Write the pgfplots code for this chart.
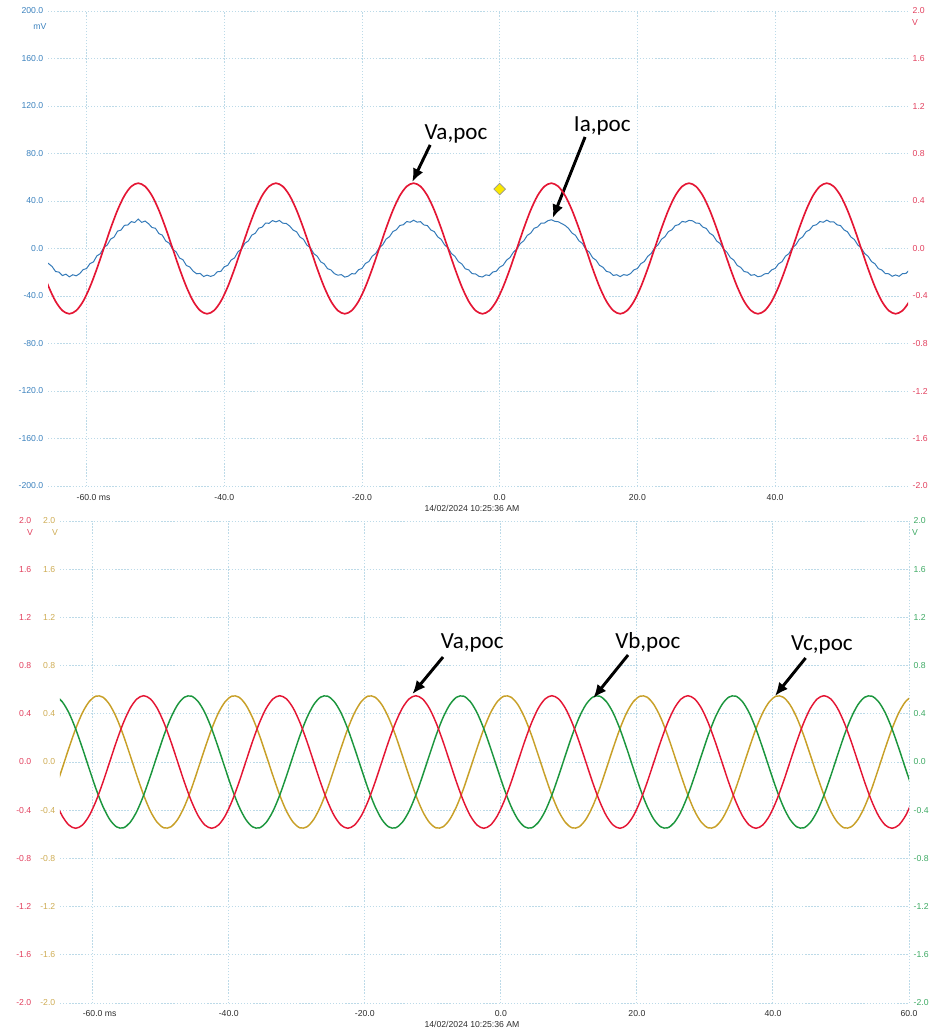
\documentclass[border=0pt]{standalone}
\usepackage{pgfplots}
\pgfplotsset{compat=1.18}
\usepackage{pgfplotstable}
\usepackage{fontspec}
\setmainfont{Liberation Sans}
\newfontfamily\annfont{Carlito}
\usetikzlibrary{arrows.meta}

\definecolor{cred}{RGB}{228,22,52}
\definecolor{cblue}{RGB}{52,122,184}
\definecolor{cyel}{RGB}{200,160,40}
\definecolor{cgreen}{RGB}{28,150,62}
\definecolor{lred}{RGB}{226,64,94}
\definecolor{lblue}{RGB}{60,130,190}
\definecolor{lyel}{RGB}{206,172,84}
\definecolor{lgreen}{RGB}{62,170,100}
\definecolor{gridc}{RGB}{188,218,232}
\definecolor{txt}{RGB}{45,45,45}

\pgfplotstableread{
t va vb vc
-66.5 -0.170 0.538 -0.368
-65.5 -0.323 0.547 -0.224
-64.5 -0.445 0.502 -0.057
-63.5 -0.523 0.409 0.114
-62.5 -0.550 0.275 0.275
-61.5 -0.523 0.114 0.409
-60.5 -0.445 -0.057 0.502
-59.5 -0.323 -0.224 0.547
-58.5 -0.170 -0.368 0.538
-57.5 0.000 -0.476 0.476
-56.5 0.170 -0.538 0.368
-55.5 0.323 -0.547 0.224
-54.5 0.445 -0.502 0.057
-53.5 0.523 -0.409 -0.114
-52.5 0.550 -0.275 -0.275
-51.5 0.523 -0.114 -0.409
-50.5 0.445 0.057 -0.502
-49.5 0.323 0.224 -0.547
-48.5 0.170 0.368 -0.538
-47.5 0.000 0.476 -0.476
-46.5 -0.170 0.538 -0.368
-45.5 -0.323 0.547 -0.224
-44.5 -0.445 0.502 -0.057
-43.5 -0.523 0.409 0.114
-42.5 -0.550 0.275 0.275
-41.5 -0.523 0.114 0.409
-40.5 -0.445 -0.057 0.502
-39.5 -0.323 -0.224 0.547
-38.5 -0.170 -0.368 0.538
-37.5 0.000 -0.476 0.476
-36.5 0.170 -0.538 0.368
-35.5 0.323 -0.547 0.224
-34.5 0.445 -0.502 0.057
-33.5 0.523 -0.409 -0.114
-32.5 0.550 -0.275 -0.275
-31.5 0.523 -0.114 -0.409
-30.5 0.445 0.057 -0.502
-29.5 0.323 0.224 -0.547
-28.5 0.170 0.368 -0.538
-27.5 0.000 0.476 -0.476
-26.5 -0.170 0.538 -0.368
-25.5 -0.323 0.547 -0.224
-24.5 -0.445 0.502 -0.057
-23.5 -0.523 0.409 0.114
-22.5 -0.550 0.275 0.275
-21.5 -0.523 0.114 0.409
-20.5 -0.445 -0.057 0.502
-19.5 -0.323 -0.224 0.547
-18.5 -0.170 -0.368 0.538
-17.5 0.000 -0.476 0.476
-16.5 0.170 -0.538 0.368
-15.5 0.323 -0.547 0.224
-14.5 0.445 -0.502 0.057
-13.5 0.523 -0.409 -0.114
-12.5 0.550 -0.275 -0.275
-11.5 0.523 -0.114 -0.409
-10.5 0.445 0.057 -0.502
-9.5 0.323 0.224 -0.547
-8.5 0.170 0.368 -0.538
-7.5 0.000 0.476 -0.476
-6.5 -0.170 0.538 -0.368
-5.5 -0.323 0.547 -0.224
-4.5 -0.445 0.502 -0.057
-3.5 -0.523 0.409 0.114
-2.5 -0.550 0.275 0.275
-1.5 -0.523 0.114 0.409
-0.5 -0.445 -0.057 0.502
0.5 -0.323 -0.224 0.547
1.5 -0.170 -0.368 0.538
2.5 0.000 -0.476 0.476
3.5 0.170 -0.538 0.368
4.5 0.323 -0.547 0.224
5.5 0.445 -0.502 0.057
6.5 0.523 -0.409 -0.114
7.5 0.550 -0.275 -0.275
8.5 0.523 -0.114 -0.409
9.5 0.445 0.057 -0.502
10.5 0.323 0.224 -0.547
11.5 0.170 0.368 -0.538
12.5 0.000 0.476 -0.476
13.5 -0.170 0.538 -0.368
14.5 -0.323 0.547 -0.224
15.5 -0.445 0.502 -0.057
16.5 -0.523 0.409 0.114
17.5 -0.550 0.275 0.275
18.5 -0.523 0.114 0.409
19.5 -0.445 -0.057 0.502
20.5 -0.323 -0.224 0.547
21.5 -0.170 -0.368 0.538
22.5 0.000 -0.476 0.476
23.5 0.170 -0.538 0.368
24.5 0.323 -0.547 0.224
25.5 0.445 -0.502 0.057
26.5 0.523 -0.409 -0.114
27.5 0.550 -0.275 -0.275
28.5 0.523 -0.114 -0.409
29.5 0.445 0.057 -0.502
30.5 0.323 0.224 -0.547
31.5 0.170 0.368 -0.538
32.5 0.000 0.476 -0.476
33.5 -0.170 0.538 -0.368
34.5 -0.323 0.547 -0.224
35.5 -0.445 0.502 -0.057
36.5 -0.523 0.409 0.114
37.5 -0.550 0.275 0.275
38.5 -0.523 0.114 0.409
39.5 -0.445 -0.057 0.502
40.5 -0.323 -0.224 0.547
41.5 -0.170 -0.368 0.538
42.5 0.000 -0.476 0.476
43.5 0.170 -0.538 0.368
44.5 0.323 -0.547 0.224
45.5 0.445 -0.502 0.057
46.5 0.523 -0.409 -0.114
47.5 0.550 -0.275 -0.275
48.5 0.523 -0.114 -0.409
49.5 0.445 0.057 -0.502
50.5 0.323 0.224 -0.547
51.5 0.170 0.368 -0.538
52.5 0.000 0.476 -0.476
53.5 -0.170 0.538 -0.368
54.5 -0.323 0.547 -0.224
55.5 -0.445 0.502 -0.057
56.5 -0.523 0.409 0.114
57.5 -0.550 0.275 0.275
58.5 -0.523 0.114 0.409
59.5 -0.445 -0.057 0.502
60.5 -0.323 -0.224 0.547
}\threephase

\pgfplotsset{
  base/.style={
    scale only axis, anchor=south west,
    axis line style={draw=none},
    major tick length=0pt,
    tick label style={font=\fontsize{6.5}{7.5}\selectfont},
    major grid style={gridc, line width=0.7pt, dash pattern=on 1pt off 1.3pt},
  },
}

\begin{document}
\begin{tikzpicture}
\useasboundingbox (0,0) rectangle (713.25pt,773.25pt);

% ---------------- TOP: Ia (mV, left) and Va (V, right) ----------------
\begin{axis}[base,
  at={(36pt,408.75pt)}, width=645pt, height=356.25pt,
  xmin=-65.6, xmax=59.3, ymin=-200, ymax=200,
  xtick={-60,-40,-20,0,20,40},
  xticklabels={{-60.0\rlap{\ ms}},-40.0,-20.0,0.0,20.0,40.0},
  xticklabel style={txt, yshift=-2.5pt},
  ytick={-200,-160,-120,-80,-40,0,40,80,120,160,200},
  yticklabels={-200.0,-160.0,-120.0,-80.0,-40.0,0.0,40.0,80.0,120.0,160.0,200.0},
  yticklabel style={lblue},
  grid=major,
]
\addplot[cblue, line width=0.75pt] coordinates {
(-66.0,-11.0) (-65.5,-12.8) (-65.0,-15.2) (-64.5,-19.4) (-64.0,-19.9) (-63.5,-22.8) (-63.0,-21.6) (-62.5,-23.9)
(-62.0,-22.1) (-61.5,-23.0) (-61.0,-21.2) (-60.5,-17.8) (-60.0,-16.9) (-59.5,-12.7) (-59.0,-11.3) (-58.5,-6.2)
(-58.0,-4.4) (-57.5,0.8) (-57.0,2.9) (-56.5,7.9) (-56.0,9.6) (-55.5,14.6) (-55.0,15.5) (-54.5,19.5)
(-54.0,19.8) (-53.5,22.6) (-53.0,21.9) (-52.5,24.8) (-52.0,22.0) (-51.5,23.1) (-51.0,20.9) (-50.5,17.7)
(-50.0,17.0) (-49.5,12.6) (-49.0,11.2) (-48.5,6.3) (-48.0,4.5) (-47.5,-0.7) (-47.0,-2.8) (-46.5,-8.0)
(-46.0,-9.5) (-45.5,-14.3) (-45.0,-15.6) (-44.5,-19.2) (-44.0,-21.3) (-43.5,-21.0) (-43.0,-23.6) (-42.5,-22.4)
(-42.0,-23.5) (-41.5,-22.6) (-41.0,-19.6) (-40.5,-19.3) (-40.0,-15.4) (-39.5,-14.2) (-39.0,-9.7) (-38.5,-7.9)
(-38.0,-2.7) (-37.5,-0.6) (-37.0,4.4) (-36.5,6.4) (-36.0,11.3) (-35.5,12.8) (-35.0,17.1) (-34.5,18.0)
(-34.0,21.4) (-33.5,21.2) (-33.0,23.5) (-32.5,22.4) (-32.0,23.6) (-31.5,21.3) (-31.0,21.1) (-30.5,18.9)
(-30.0,15.5) (-29.5,14.1) (-29.0,9.6) (-28.5,7.8) (-28.0,2.8) (-27.5,0.7) (-27.0,-4.3) (-26.5,-6.5)
(-26.0,-11.2) (-25.5,-12.9) (-25.0,-17.0) (-24.5,-18.1) (-24.0,-21.2) (-23.5,-22.5) (-23.0,-22.0) (-22.5,-24.1)
(-22.0,-23.3) (-21.5,-21.2) (-21.0,-21.4) (-20.5,-17.9) (-20.0,-16.8) (-19.5,-12.6) (-19.0,-11.0) (-18.5,-6.4)
(-18.0,-4.2) (-17.5,0.6) (-17.0,3.0) (-16.5,7.9) (-16.0,10.0) (-15.5,14.3) (-15.0,15.8) (-14.5,19.4)
(-14.0,20.0) (-13.5,22.7) (-13.0,22.1) (-12.5,23.8) (-12.0,22.2) (-11.5,22.6) (-11.0,19.8) (-10.5,19.3)
(-10.0,15.6) (-9.5,14.2) (-9.0,9.8) (-8.5,7.7) (-8.0,3.0) (-7.5,0.5) (-7.0,-4.3) (-6.5,-6.6)
(-6.0,-11.1) (-5.5,-13.0) (-5.0,-17.1) (-4.5,-18.0) (-4.0,-21.2) (-3.5,-21.4) (-3.0,-23.5) (-2.5,-24.0)
(-2.0,-22.2) (-1.5,-22.8) (-1.0,-19.8) (-0.5,-19.2) (0.0,-15.7) (0.5,-14.1) (1.0,-9.8) (1.5,-7.6)
(2.0,-3.0) (2.5,-0.4) (3.0,4.2) (3.5,6.5) (4.0,11.0) (4.5,12.9) (5.0,17.0) (5.5,18.1)
(6.0,21.3) (6.5,21.4) (7.0,23.4) (7.5,24.2) (8.0,22.9) (8.5,22.5) (9.0,21.0) (9.5,19.4)
(10.0,16.9) (10.5,13.0) (11.0,11.1) (11.5,6.5) (12.0,4.3) (12.5,-0.6) (13.0,-3.0) (13.5,-7.8)
(14.0,-9.9) (14.5,-14.2) (15.0,-15.8) (15.5,-19.3) (16.0,-20.0) (16.5,-22.7) (17.0,-22.1) (17.5,-23.7)
(18.0,-22.0) (18.5,-22.6) (19.0,-21.1) (19.5,-18.0) (20.0,-16.9) (20.5,-12.8) (21.0,-11.0) (21.5,-6.6)
(22.0,-4.2) (22.5,0.5) (23.0,3.1) (23.5,7.8) (24.0,9.9) (24.5,14.2) (25.0,15.7) (25.5,19.3)
(26.0,20.1) (26.5,22.8) (27.0,22.2) (27.5,23.7) (28.0,23.3) (28.5,21.4) (29.0,21.2) (29.5,18.0)
(30.0,16.9) (30.5,12.9) (31.0,11.0) (31.5,6.4) (32.0,4.2) (32.5,-0.5) (33.0,-3.1) (33.5,-7.7)
(34.0,-9.8) (34.5,-14.3) (35.0,-15.9) (35.5,-19.4) (36.0,-20.0) (36.5,-22.6) (37.0,-22.0) (37.5,-23.8)
(38.0,-23.2) (38.5,-21.3) (39.0,-21.1) (39.5,-18.0) (40.0,-16.8) (40.5,-12.9) (41.0,-11.1) (41.5,-6.5)
(42.0,-4.3) (42.5,0.6) (43.0,3.0) (43.5,7.7) (44.0,9.8) (44.5,14.1) (45.0,15.6) (45.5,19.2)
(46.0,20.0) (46.5,22.7) (47.0,22.1) (47.5,23.9) (48.0,22.3) (48.5,22.5) (49.0,19.9) (49.5,19.3)
(50.0,15.7) (50.5,14.1) (51.0,9.7) (51.5,7.6) (52.0,3.0) (52.5,0.4) (53.0,-4.2) (53.5,-6.6)
(54.0,-11.0) (54.5,-12.9) (55.0,-17.0) (55.5,-18.1) (56.0,-21.1) (56.5,-21.3) (57.0,-23.4) (57.5,-22.3)
(58.0,-23.4) (58.5,-21.2) (59.0,-21.0) (59.5,-18.0)
};
\addplot[only marks, mark=square*, mark size=3.1pt,
  mark options={rotate=45, fill={rgb,255:red,250;green,232;blue,0}, draw={rgb,255:red,150;green,150;blue,150}, line width=0.5pt}]
  coordinates {(0,50)};
\draw[line width=2.2pt, -{Latex[length=10pt,width=8.5pt]}] (axis cs:-10.1,87.2) -- (axis cs:-12.7,56);
\draw[line width=2.2pt, -{Latex[length=10pt,width=8.5pt]}] (axis cs:12.4,93.9) -- (axis cs:7.7,25.7);
\node[anchor=base, font=\annfont\fontsize{17.3}{20}\selectfont, inner sep=0pt] at (axis cs:-6.35,91.4) {Va,poc};
\node[anchor=base, font=\annfont\fontsize{17.3}{20}\selectfont, inner sep=0pt] at (axis cs:14.9,98.1) {Ia,poc};
\end{axis}

\begin{axis}[base,
  at={(36pt,408.75pt)}, width=645pt, height=356.25pt,
  xmin=-65.6, xmax=59.3, ymin=-2, ymax=2,
  axis x line=none, axis y line*=right,
  ytick={-2,-1.6,-1.2,-0.8,-0.4,0,0.4,0.8,1.2,1.6,2},
  yticklabels={-2.0,-1.6,-1.2,-0.8,-0.4,0.0,0.4,0.8,1.2,1.6,2.0},
  yticklabel style={lred},
]
\addplot[cred, line width=1.25pt, smooth] table[x=t, y=va] {\threephase};
\end{axis}

% ---------------- BOTTOM: three phase voltages ----------------
\begin{axis}[base,
  at={(45pt,21pt)}, width=636.75pt, height=361.5pt,
  xmin=-64.8, xmax=60, ymin=-2, ymax=2,
  xtick={-60,-40,-20,0,20,40,60},
  xticklabels={{-60.0\rlap{\ ms}},-40.0,-20.0,0.0,20.0,40.0,60.0},
  xticklabel style={txt, yshift=-2pt},
  ytick={-2,-1.6,-1.2,-0.8,-0.4,0,0.4,0.8,1.2,1.6,2},
  yticklabels={-2.0,-1.6,-1.2,-0.8,-0.4,0.0,0.4,0.8,1.2,1.6,2.0},
  yticklabel style={lyel},
  grid=major,
]
\addplot[cyel, line width=1.1pt, smooth] table[x=t, y=vc] {\threephase};
\addplot[cgreen, line width=1.1pt, smooth] table[x=t, y=vb] {\threephase};
\addplot[cred, line width=1.1pt, smooth] table[x=t, y=va] {\threephase};
\draw[line width=2.2pt, -{Latex[length=10pt,width=8.5pt]}] (axis cs:-8.5,0.871) -- (axis cs:-13.0,0.564);
\draw[line width=2.2pt, -{Latex[length=10pt,width=8.5pt]}] (axis cs:18.7,0.888) -- (axis cs:13.6,0.531);
\draw[line width=2.2pt, -{Latex[length=10pt,width=8.5pt]}] (axis cs:44.8,0.863) -- (axis cs:40.3,0.548);
\node[anchor=base, font=\annfont\fontsize{17.3}{20}\selectfont, inner sep=0pt] at (axis cs:-4.2,0.946) {Va,poc};
\node[anchor=base, font=\annfont\fontsize{17.3}{20}\selectfont, inner sep=0pt] at (axis cs:21.6,0.946) {Vb,poc};
\node[anchor=base, font=\annfont\fontsize{17.3}{20}\selectfont, inner sep=0pt] at (axis cs:47.2,0.929) {Vc,poc};
\end{axis}

\begin{axis}[base,
  at={(45pt,21pt)}, width=636.75pt, height=361.5pt,
  xmin=-64.8, xmax=60, ymin=-2, ymax=2,
  axis x line=none, axis y line*=left,
  ytick={-2,-1.6,-1.2,-0.8,-0.4,0,0.4,0.8,1.2,1.6,2},
  yticklabels={-2.0,-1.6,-1.2,-0.8,-0.4,0.0,0.4,0.8,1.2,1.6,2.0},
  yticklabel style={lred, xshift=-18pt},
]
\end{axis}

\begin{axis}[base,
  at={(45pt,21pt)}, width=636.75pt, height=361.5pt,
  xmin=-64.8, xmax=60, ymin=-2, ymax=2,
  axis x line=none, axis y line*=right,
  ytick={-2,-1.6,-1.2,-0.8,-0.4,0,0.4,0.8,1.2,1.6,2},
  yticklabels={-2.0,-1.6,-1.2,-0.8,-0.4,0.0,0.4,0.8,1.2,1.6,2.0},
  yticklabel style={lgreen},
]
\end{axis}

% units and time stamps
\begin{scope}[every node/.style={font=\fontsize{6.5}{7.5}\selectfont, inner sep=0pt}]
\node[text=lblue] at (30pt,753pt) {mV};
\node[text=lred] at (686.25pt,756pt) {V};
\node[text=lred] at (22.5pt,373.5pt) {V};
\node[text=lyel] at (41.25pt,373.5pt) {V};
\node[text=lgreen] at (686.25pt,373.5pt) {V};
\node[text=txt] at (354pt,392.25pt) {14/02/2024 10:25:36 AM};
\node[text=txt] at (354pt,5.25pt) {14/02/2024 10:25:36 AM};
\end{scope}
\end{tikzpicture}
\end{document}
